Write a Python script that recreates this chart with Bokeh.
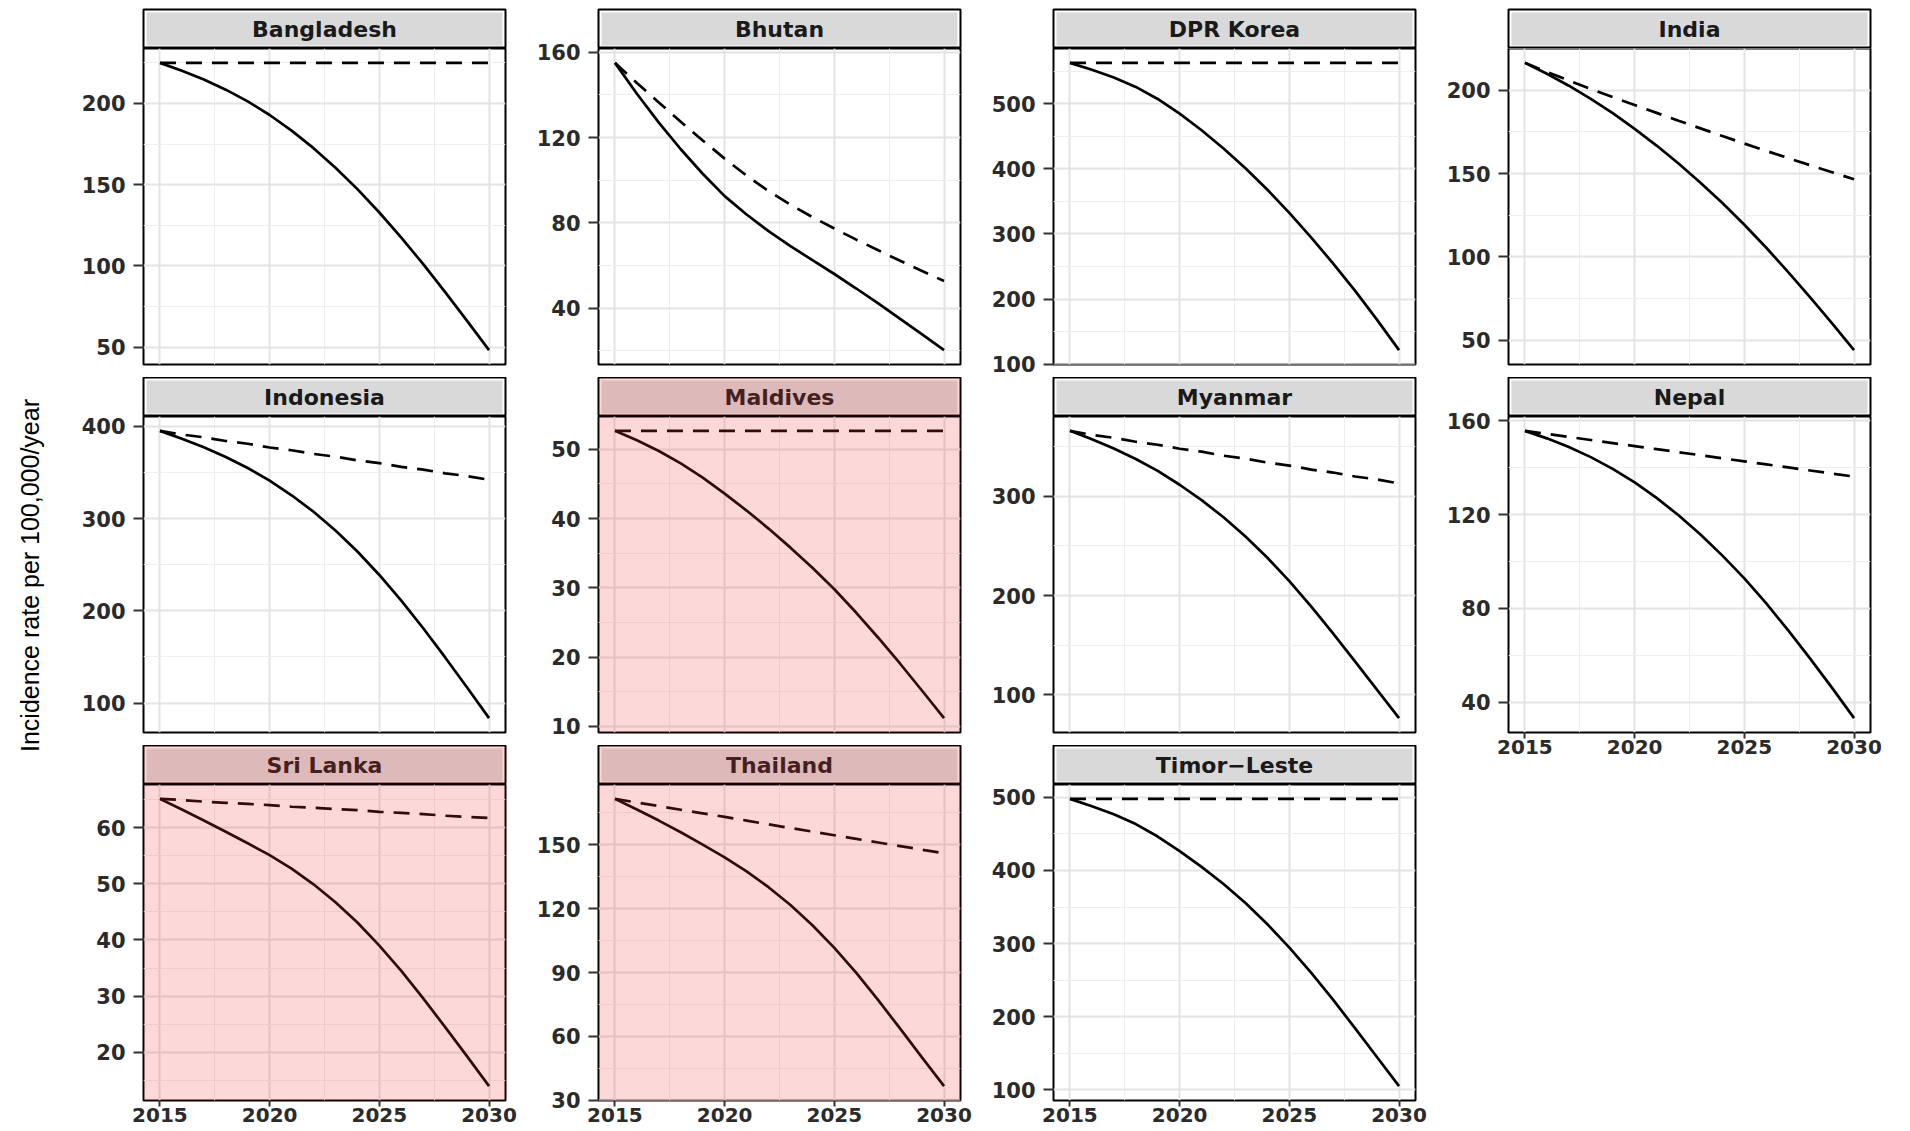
import math
from bokeh.plotting import figure
from bokeh.models import Range1d, FixedTicker, BoxAnnotation, Label
from bokeh.layouts import row, column
from bokeh.embed import file_html
from bokeh.resources import INLINE

# ---------------- data ----------------
years = [2015, 2016, 2017, 2018, 2019, 2020, 2021, 2022, 2023, 2024, 2025, 2026, 2027, 2028, 2029, 2030]
x_ticks = [2015, 2020, 2025, 2030]
x_minor_ticks = [2012.5, 2017.5, 2022.5, 2027.5, 2032.5]
y_title = "Incidence rate per 100,000/year"

countries = ["Bangladesh", "Bhutan", "DPR Korea", "India", "Indonesia", "Maldives",
             "Myanmar", "Nepal", "Sri Lanka", "Thailand", "Timor\u2212Leste"]

bangladesh_scenario = [225, 220.1, 214.7, 208.5, 201.3, 192.9, 183.3, 172.5, 160.5, 147.3, 132.9, 117.5, 101.1, 83.9, 66.2, 48.2]
bangladesh_baseline = [225, 225, 225, 225, 225, 225, 225, 225, 225, 225, 225, 225, 225, 225, 225, 225]
bangladesh_yticks = [50, 100, 150, 200]

bhutan_scenario = [155, 140.5, 127, 114.5, 103, 92.5, 83.9, 76.1, 69.1, 62.5, 56.0, 49.2, 42.2, 35.0, 27.7, 20.3]
bhutan_baseline = [155, 145.6, 136.4, 127.4, 118.6, 110.1, 102.1, 94.9, 88.5, 82.7, 77.3, 72.1, 67.1, 62.2, 57.4, 52.7]
bhutan_yticks = [40, 80, 120, 160]

dprk_scenario = [563, 552.5, 540.5, 526, 507.5, 485, 459.5, 431.5, 401, 368, 332.5, 294.5, 254.5, 212.5, 168, 121.5]
dprk_baseline = [563, 563, 563, 563, 563, 563, 563, 563, 563, 563, 563, 563, 563, 563, 563, 563]
dprk_yticks = [100, 200, 300, 400, 500]

india_scenario = [216.4, 209.9, 202.7, 194.8, 186.2, 176.8, 166.8, 156.0, 144.5, 132.3, 119.3, 105.5, 90.9, 75.7, 60.1, 44.1]
india_baseline = [216.4, 211.0, 205.8, 200.8, 195.9, 191.1, 186.4, 181.7, 177.1, 172.5, 168.0, 163.6, 159.3, 155.0, 150.8, 146.6]
india_yticks = [50, 100, 150, 200]

indonesia_scenario = [395, 386.5, 377.2, 366.7, 354.7, 341.0, 325.2, 307.3, 287.0, 264.2, 238.8, 211.0, 181.0, 149.4, 116.8, 83.6]
indonesia_baseline = [395, 391, 388, 384, 381, 377, 374, 370, 367, 363, 360, 356, 353, 349, 346, 342]
indonesia_yticks = [100, 200, 300, 400]

maldives_scenario = [52.65, 51.3, 49.75, 47.95, 45.9, 43.6, 41.15, 38.55, 35.8, 32.9, 29.8, 26.4, 22.8, 19.05, 15.15, 11.2]
maldives_baseline = [52.65, 52.65, 52.65, 52.65, 52.65, 52.65, 52.65, 52.65, 52.65, 52.65, 52.65, 52.65, 52.65, 52.65, 52.65, 52.65]
maldives_yticks = [10, 20, 30, 40, 50]

myanmar_scenario = [366, 357.5, 348.2, 337.7, 325.7, 311.7, 296.2, 278.9, 259.6, 238.1, 214.6, 188.8, 161.6, 133.5, 105.0, 76.5]
myanmar_baseline = [366, 362, 359, 355, 352, 348, 345, 341, 338, 334, 331, 327, 324, 320, 317, 313]
myanmar_yticks = [100, 200, 300]

nepal_scenario = [155.7, 152.5, 148.8, 144.5, 139.5, 133.7, 127.1, 119.7, 111.5, 102.5, 92.8, 82.1, 70.6, 58.6, 46.1, 33.2]
nepal_baseline = [155.7, 154.4, 153.1, 151.8, 150.5, 149.2, 147.9, 146.6, 145.3, 144.0, 142.7, 141.4, 140.1, 138.8, 137.5, 136.2]
nepal_yticks = [40, 80, 120, 160]

srilanka_scenario = [65.1, 63.2, 61.25, 59.25, 57.2, 55.1, 52.7, 49.9, 46.7, 43.1, 39.0, 34.5, 29.6, 24.5, 19.3, 14.0]
srilanka_baseline = [65.1, 64.9, 64.6, 64.4, 64.2, 64.0, 63.7, 63.5, 63.3, 63.1, 62.8, 62.6, 62.4, 62.1, 61.9, 61.7]
srilanka_yticks = [20, 30, 40, 50, 60]

thailand_scenario = [171.6, 166.6, 161.4, 155.9, 150.1, 144.1, 137.5, 130.1, 121.7, 112.2, 101.6, 89.8, 77.0, 63.6, 50.0, 36.6]
thailand_baseline = [171.6, 169.9, 168.2, 166.5, 164.8, 163.1, 161.4, 159.6, 157.9, 156.2, 154.5, 152.8, 151.1, 149.4, 147.7, 146.0]
thailand_yticks = [30, 60, 90, 120, 150]

timorleste_scenario = [498, 488, 477, 463.5, 446.5, 426.5, 405, 381.5, 355.5, 326.5, 294.5, 260, 223, 184, 144.5, 105]
timorleste_baseline = [498, 498, 498, 498, 498, 498, 498, 498, 498, 498, 498, 498, 498, 498, 498, 498]
timorleste_yticks = [100, 200, 300, 400, 500]

highlighted = ["Maldives", "Sri Lanka", "Thailand"]

panels = [
    (countries[0], bangladesh_scenario, bangladesh_baseline, bangladesh_yticks),
    (countries[1], bhutan_scenario, bhutan_baseline, bhutan_yticks),
    (countries[2], dprk_scenario, dprk_baseline, dprk_yticks),
    (countries[3], india_scenario, india_baseline, india_yticks),
    (countries[4], indonesia_scenario, indonesia_baseline, indonesia_yticks),
    (countries[5], maldives_scenario, maldives_baseline, maldives_yticks),
    (countries[6], myanmar_scenario, myanmar_baseline, myanmar_yticks),
    (countries[7], nepal_scenario, nepal_baseline, nepal_yticks),
    (countries[8], srilanka_scenario, srilanka_baseline, srilanka_yticks),
    (countries[9], thailand_scenario, thailand_baseline, thailand_yticks),
    (countries[10], timorleste_scenario, timorleste_baseline, timorleste_yticks),
]

# ---------------- layout constants ----------------
LABEL_W = 66
BL = 77          # left border (y axis)
FW = 362         # frame width
BR = 16          # right border
BR_LAST = 35
TOP = 9
SH = 39          # strip height
FH = 316         # frame height
GAP = 13
XH = 29          # bottom x axis area
OVER = 14        # transparent top border of panels, overlapping the strip
FONT = "DejaVu Sans"
TOTAL_H = TOP + 3 * SH + 3 * FH + 2 * GAP + XH

columns = [[], [], [], []]
n = len(panels)

for i, (name, scen, base, yt) in enumerate(panels):
    r, c = divmod(i, 4)
    br = BR_LAST if c == 3 else BR
    w = BL + FW + br
    hl = name in highlighted

    # ---- strip ----
    top_b = TOP if r == 0 else 0
    s = figure(width=w, height=SH + top_b, x_range=Range1d(0, FW), y_range=Range1d(0, SH),
               min_border_left=BL, min_border_right=br, min_border_top=top_b, min_border_bottom=0,
               toolbar_location=None, output_backend="svg",
               x_axis_location=None, y_axis_location=None)
    s.xgrid.visible = False
    s.ygrid.visible = False
    s.outline_line_color = "black"
    s.outline_line_width = 2
    s.background_fill_color = "white"
    s.border_fill_color = "white"
    s.add_layout(BoxAnnotation(left=3, right=FW - 3, bottom=3, top=SH - 3,
                               fill_color="#d9d9d9", fill_alpha=1, line_color=None))
    s.add_layout(Label(x=FW / 2, y=SH / 2, text=name, text_align="center", text_baseline="middle",
                       text_font=FONT, text_font_size="22px", text_font_style="bold",
                       text_color="#1a1a1a"))
    if hl:
        s.add_layout(BoxAnnotation(fill_color="#f03c3c", fill_alpha=0.2, line_color=None, level="overlay"))
    columns[c].append(s)

    # ---- panel ----
    show_x = (r == 2) or (i + 4 >= n)
    if show_x:
        h, mbb = OVER + FH + XH, XH
    else:
        h, mbb = OVER + FH + GAP, GAP

    allv = list(scen) + list(base)
    lo, hi = min(allv), max(allv)
    pad = 0.05 * (hi - lo)
    p = figure(width=w, height=h, x_range=Range1d(2015 - 0.75, 2030 + 0.75),
               y_range=Range1d(lo - pad, hi + pad),
               min_border_left=BL, min_border_right=br, min_border_top=OVER, min_border_bottom=mbb,
               toolbar_location=None, output_backend="svg", margin=(-OVER, 0, 0, 0))
    step = yt[1] - yt[0]
    y_minor = [yt[0] - step / 2] + [t + step / 2 for t in yt]
    p.xaxis.ticker = FixedTicker(ticks=x_ticks, minor_ticks=x_minor_ticks)
    p.yaxis.ticker = FixedTicker(ticks=yt, minor_ticks=y_minor)
    for ax in (p.xaxis[0], p.yaxis[0]):
        ax.axis_line_color = None
        ax.major_tick_in = 0
        ax.minor_tick_in = 0
        ax.minor_tick_out = 0
        ax.major_tick_line_color = "#333333"
        ax.major_tick_line_width = 2
        ax.major_label_text_font = FONT
        ax.major_label_text_font_style = "bold"
        ax.major_label_text_color = "#2b2b2b"
    p.yaxis.major_tick_out = 10
    p.yaxis.major_label_standoff = 8
    p.yaxis.major_label_text_font_size = "21px"
    p.xaxis.major_tick_out = 6
    p.xaxis.major_label_standoff = 1
    p.xaxis.major_label_text_font_size = "20px"
    if not show_x:
        p.xaxis.visible = False

    p.grid.grid_line_color = "#e3e3e3"
    p.grid.grid_line_width = 2
    p.grid.minor_grid_line_color = "#eeeeee"
    p.grid.minor_grid_line_width = 1
    p.outline_line_color = "black"
    p.outline_line_width = 2
    p.background_fill_color = "white"
    p.border_fill_alpha = 0

    p.line(years, base, line_color="black", line_width=2.7, line_dash="16 10")
    p.line(years, scen, line_color="black", line_width=2.7)

    if hl:
        p.add_layout(BoxAnnotation(fill_color="#f03c3c", fill_alpha=0.2, line_color=None, level="overlay"))
    columns[c].append(p)

# ---- y axis title ----
lab = figure(width=LABEL_W, height=TOTAL_H, x_range=Range1d(0, LABEL_W), y_range=Range1d(0, TOTAL_H),
             min_border=0, toolbar_location=None, output_backend="svg",
             x_axis_location=None, y_axis_location=None)
lab.xgrid.visible = False
lab.ygrid.visible = False
lab.outline_line_color = None
lab.add_layout(Label(x=29, y=TOTAL_H - 575, text=y_title, angle=math.pi / 2,
                     text_align="center", text_baseline="middle",
                     text_font="Liberation Sans", text_font_size="25px", text_color="black"))

layout = row(lab, *[column(*col) for col in columns])

open("out.html", "w").write(file_html(layout, INLINE))
